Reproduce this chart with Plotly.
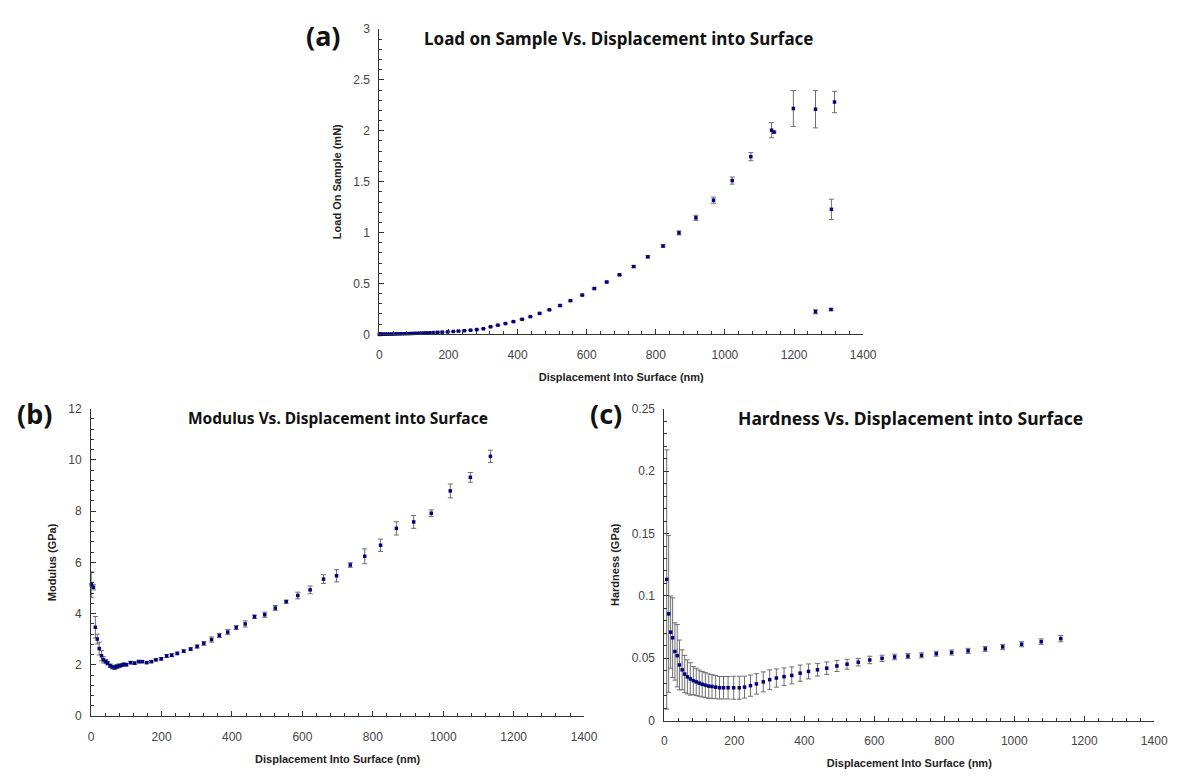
import plotly.graph_objects as go

# ---------------- data ----------------
# (a) Load on sample vs displacement
load_disp = [0, 2, 4, 6.6, 12.2, 17.8, 23.5, 30, 36.6, 43, 50.7, 58, 65.7, 74, 82.6, 91, 99.5,
             108, 117, 126.8, 136, 146.5, 157.7, 169, 182, 198, 214, 229, 246,
             264, 282, 301, 322, 343, 365, 388, 413, 437, 464, 492, 523, 553, 587, 622,
             658, 695, 736, 777, 821, 867, 916, 967, 1021, 1075, 1135,
             1142, 1198, 1262, 1317, 1308, 1262, 1307]
load_val = [0, 0, 0.0003, 0.0006, 0.0010, 0.0014, 0.0018, 0.0023, 0.0028, 0.0033, 0.0040, 0.0047,
            0.0055, 0.0063, 0.0072, 0.0082, 0.0092, 0.0103, 0.0115, 0.0128, 0.0142, 0.0158,
            0.0175, 0.0195, 0.0215, 0.024, 0.028, 0.032, 0.036,
            0.041, 0.047, 0.055, 0.074, 0.090, 0.106, 0.125, 0.148, 0.174, 0.206, 0.241,
            0.283, 0.331, 0.386, 0.450, 0.514, 0.585, 0.666, 0.762, 0.868, 0.997, 1.145,
            1.318, 1.511, 1.746, 2.006,
            1.987, 2.219, 2.212, 2.283, 1.228, 0.222, 0.244]
load_err = [0] * 29 + [0.002, 0.002, 0.002, 0.003, 0.003, 0.003, 0.004, 0.004, 0.004, 0.005,
                       0.005, 0.006, 0.006, 0.007, 0.007, 0.008, 0.008, 0.009, 0.010, 0.012,
                       0.020, 0.025, 0.030, 0.035, 0.040, 0.074,
                       0.010, 0.177, 0.183, 0.105, 0.100, 0.020, 0.010]

# (b) Modulus vs displacement
mod_disp = [0.5, 6.5, 12, 17.5, 23, 29.5, 35, 42, 47, 54, 60.5, 67, 73.5, 80, 86.5, 93,
            100, 112, 123.5, 135.5, 145, 158, 171, 184, 199, 214.5, 229, 244.5, 263, 282.6,
            301, 320, 342, 364, 388, 412, 437.5, 464, 493, 523,
            554, 587, 622, 660, 697, 736, 777, 822, 867, 916, 966, 1020, 1077, 1134]
mod_val = [5.13, 5.03, 3.47, 3.01, 2.64, 2.36, 2.20, 2.13, 2.07, 1.97, 1.92, 1.90, 1.94, 1.97,
           1.99, 2.02, 2.01, 2.09, 2.07, 2.13, 2.13, 2.09, 2.13, 2.20, 2.24, 2.35, 2.38, 2.45,
           2.54, 2.62, 2.72, 2.84, 2.99, 3.15, 3.28, 3.46, 3.60, 3.88, 3.96, 4.22,
           4.47, 4.71, 4.93, 5.35, 5.48, 5.90, 6.24, 6.67, 7.33, 7.58, 7.92, 8.79, 9.32, 10.14]
mod_err = [0.50, 0.10, 0.42, 0.19, 0.25, 0.20, 0.12, 0.08, 0.07, 0.07, 0.07, 0.08, 0.08, 0.07,
           0.06, 0.06, 0.05, 0.05, 0.05, 0.05, 0.04, 0.04, 0.04, 0.04, 0.05, 0.06, 0.06, 0.05,
           0.05, 0.05, 0.06, 0.07, 0.10, 0.08, 0.10, 0.08, 0.12, 0.07, 0.10, 0.10,
           0.06, 0.13, 0.15, 0.17, 0.24, 0.09, 0.29, 0.24, 0.26, 0.25, 0.13, 0.27, 0.19, 0.24]

# (c) Hardness vs displacement
hard_disp = [6.6, 12.2, 17.8, 23.5, 30, 36.6, 43, 50.7, 58, 65.7, 74, 82.6, 91, 99.5, 108, 117,
             126.8, 136, 146.5, 157.7, 169, 182, 198, 214, 229, 246, 263, 282.6, 301, 320, 342,
             364, 388, 412, 437.5, 464, 493, 522,
             554, 587, 622, 658, 696, 735, 777, 821, 868, 917, 967, 1021, 1077, 1133]
hard_val = [0.1132, 0.0856, 0.0709, 0.0664, 0.0554, 0.0520, 0.0446, 0.0407, 0.0373, 0.0350,
            0.0334, 0.0320, 0.0310, 0.0300, 0.0291, 0.0284, 0.0276, 0.0273, 0.0268, 0.0263,
            0.0263, 0.0263, 0.0263, 0.0263, 0.0268, 0.0280, 0.0294, 0.0310, 0.0328, 0.0341,
            0.0352, 0.0362, 0.0380, 0.0394, 0.0407, 0.0420, 0.0438, 0.0452,
            0.0468, 0.0486, 0.0499, 0.0510, 0.0517, 0.0523, 0.0536, 0.0546, 0.0559, 0.0575,
            0.0591, 0.0612, 0.0633, 0.0657]
hard_err = [0.104, 0.063, 0.029, 0.032, 0.023, 0.025, 0.020, 0.016, 0.015, 0.0137, 0.013,
            0.0113, 0.011, 0.0105, 0.0102, 0.0100, 0.0098, 0.0095, 0.0093, 0.0090, 0.0090,
            0.0090, 0.0092, 0.0092, 0.0088, 0.0085, 0.0082, 0.0080, 0.0078, 0.0073, 0.0070,
            0.0068, 0.0065, 0.0060, 0.0050, 0.0050, 0.0045, 0.0040,
            0.0030, 0.0030, 0.0025, 0.0022, 0.0020, 0.0020, 0.0020, 0.0020, 0.0020, 0.0020,
            0.0020, 0.0020, 0.0022, 0.0025]

# ---------------- style ----------------
W, H = 1191, 780
OFF = 8                      # default body margin of the html page
FW, FH = W - 2 * OFF, H - 2 * OFF
MARK = dict(symbol="square", size=3.5, color="#000080")
ERRC = "#6e6e6e"
AXC = "#333333"
TICKFONT = dict(family="Liberation Sans, Arial, sans-serif", size=12, color="#444444")
TITLEFONT = dict(family="Liberation Sans, Arial, sans-serif", size=11, color="#222222")


def px_x(p):
    return (p - OFF) / FW


def px_y(p):
    return 1 - (p - OFF) / FH


fig = go.Figure()


def add_series(x, y, e, xa, ya):
    fig.add_trace(go.Scatter(
        x=x, y=y, mode="markers", marker=MARK, xaxis=xa, yaxis=ya, cliponaxis=False,
        error_y=dict(type="data", array=e, color=ERRC, thickness=1, width=2.5),
        showlegend=False))


add_series(load_disp, load_val, load_err, "x", "y")
add_series(mod_disp, mod_val, mod_err, "x2", "y2")
add_series(hard_disp, hard_val, hard_err, "x3", "y3")


def xaxis(dom, anchor):
    return dict(domain=dom, anchor=anchor, range=[0, 1400], dtick=200, tick0=0,
                ticks="inside", ticklen=5, tickwidth=1, tickcolor=AXC,
                showline=True, linecolor=AXC, linewidth=1, showgrid=False, zeroline=False,
                minor=dict(dtick=40, tick0=0, ticks="inside", ticklen=3, tickcolor=AXC),
                tickfont=TICKFONT, ticklabelstandoff=9,
                title=dict(text="<b>Displacement Into Surface (nm)</b>", font=TITLEFONT, standoff=12))


def yaxis(dom, anchor, rng, dt, mdt, title):
    return dict(domain=dom, anchor=anchor, range=rng, dtick=dt, tick0=0,
                ticks="inside", ticklen=5, tickwidth=1, tickcolor=AXC,
                showline=True, linecolor=AXC, linewidth=1, showgrid=False, zeroline=False,
                minor=dict(dtick=mdt, tick0=0, ticks="inside", ticklen=3, tickcolor=AXC),
                tickfont=TICKFONT, ticklabelstandoff=6,
                title=dict(text="<b>" + title + "</b>", font=TITLEFONT, standoff=9))


fig.update_layout(
    width=FW, height=FH, margin=dict(l=0, r=0, t=0, b=0),
    paper_bgcolor="white", plot_bgcolor="white",
    xaxis=xaxis([px_x(381.7), px_x(872.7)], "y"),
    yaxis=yaxis([px_y(333.3), px_y(22.3)], "x", [0, 3], 0.5, 0.1, "Load On Sample (mN)"),
    xaxis2=xaxis([px_x(89.3), px_x(589.5)], "y2"),
    yaxis2=yaxis([px_y(722.3), px_y(409)], "x2", [0, 12], 2, 0.4, "Modulus (GPa)"),
    xaxis3=xaxis([px_x(671), px_x(1168)], "y3"),
    yaxis3=yaxis([px_y(726.7), px_y(409.3)], "x3", [0, 0.25], 0.05, 0.01, "Hardness (GPa)"),
)

FAM = "Noto Sans, Open Sans, sans-serif"
ann = [
    ("<b>Load on Sample Vs. Displacement into Surface</b>", 625, 32, 17, "middle"),
    ("<b>Modulus Vs. Displacement into Surface</b>", 340, 419, 15.5, "middle"),
    ("<b>Hardness Vs. Displacement into Surface</b>", 921, 419, 17.5, "middle"),
    ("<b>(a)</b>", 325, OFF, 27, "top"),
    ("<b>(b)</b>", 32, 414, 27, "middle"),
    ("<b>(c)</b>", 612, 414, 27, "middle"),
]
for text, x, y, s, ya in ann:
    fig.add_annotation(text=text, x=px_x(x), y=px_y(y), xref="paper", yref="paper",
                       showarrow=False, font=dict(family=FAM, size=s, color="#111111"),
                       xanchor="center", yanchor=ya)

fig.write_html("out.html")
